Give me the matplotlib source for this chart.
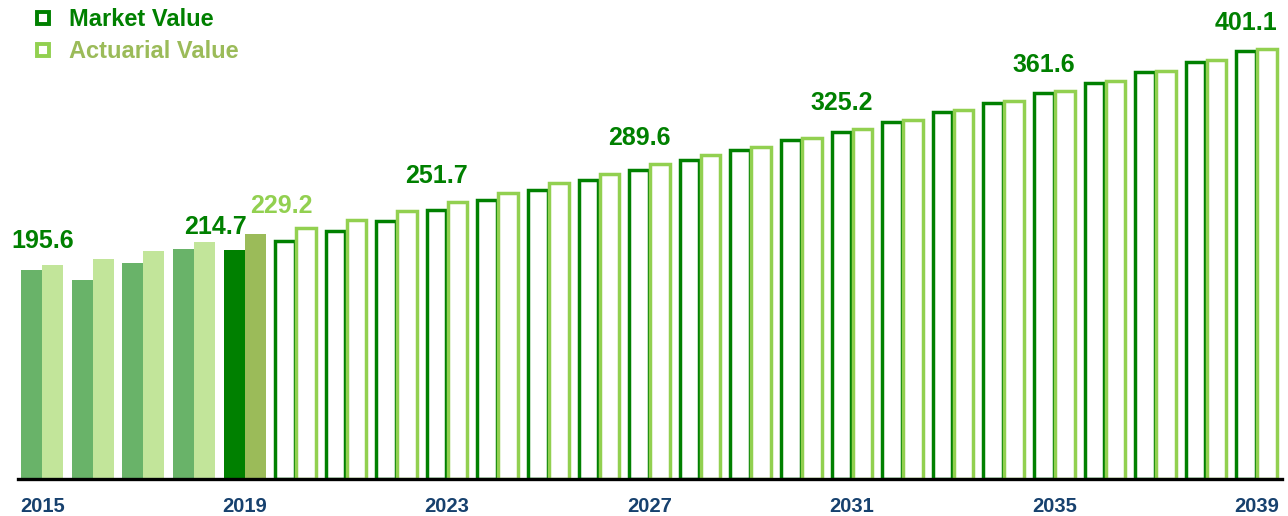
import matplotlib
matplotlib.use("Agg")
import matplotlib.pyplot as plt
from matplotlib.lines import Line2D
import numpy as np

years = list(range(2015, 2040))
market = [195.6, 186.3, 202.2, 215.4, 214.7, 222.8, 232.2, 241.6, 251.7, 261.2,
          270.6, 280.2, 289.6, 299.0, 308.1, 317.1, 325.2, 334.3, 343.6, 352.3,
          361.6, 371.1, 381.1, 390.7, 401.1]
actuarial = [200.1, 206.0, 213.5, 221.9, 229.2, 234.7, 242.8, 250.9, 259.6, 268.1,
             276.9, 285.9, 294.7, 303.1, 311.1, 319.6, 328.0, 336.4, 345.2, 353.9,
             363.3, 372.7, 382.0, 392.3, 402.3]
tick_years = [2015, 2019, 2023, 2027, 2031, 2035, 2039]
labels_market = {2015: "195.6", 2019: "214.7", 2023: "251.7", 2027: "289.6",
                 2031: "325.2", 2035: "361.6", 2039: "401.1"}
labels_actuarial = {2019: "229.2"}

DARK = "#008000"
LIGHT = "#92d050"
HIST_M = "#69b369"
HIST_A = "#c2e59a"
CUR_A = "#9bbb59"
NAVY = "#17416e"
FONT = "Liberation Sans"

W, H = 1288, 516
fig = plt.figure(figsize=(W / 100, H / 100), dpi=100)
left_px, right_px, base_px, top_px = 18, 1282, 479, 0
ax = fig.add_axes([left_px / W, (H - base_px) / H, (right_px - left_px) / W, (base_px - top_px) / H])

x = np.arange(len(years))
bw = 0.415
for i, yr in enumerate(years):
    if yr < 2019:
        ax.bar(x[i] - bw / 2, market[i], bw, color=HIST_M, zorder=2)
        ax.bar(x[i] + bw / 2, actuarial[i], bw, color=HIST_A, zorder=2)
    elif yr == 2019:
        ax.bar(x[i] - bw / 2, market[i], bw, color=DARK, zorder=2)
        ax.bar(x[i] + bw / 2, actuarial[i], bw, color=CUR_A, zorder=2)
    else:
        ax.bar(x[i] - bw / 2, market[i], bw * 0.93, facecolor="white", edgecolor=DARK,
               linewidth=2.5, zorder=2)
        ax.bar(x[i] + bw / 2, actuarial[i], bw * 0.93, facecolor="white", edgecolor=LIGHT,
               linewidth=2.5, zorder=3)

# value labels
for yr, txt in labels_market.items():
    i = years.index(yr)
    if yr == 2015:
        xp, yv, dy = x[i], actuarial[i], 12
    elif yr == 2019:
        xp, yv, dy = x[i] - 0.57, market[i], 11
    else:
        xp, yv, dy = x[i] - bw / 2, actuarial[i], 14
    ax.annotate(txt, (xp, yv), xytext=(0, dy), textcoords="offset pixels",
                ha="center", va="bottom", color=DARK, fontsize=18,
                fontweight="bold", family=FONT, zorder=6)
for yr, txt in labels_actuarial.items():
    i = years.index(yr)
    ax.annotate(txt, (x[i] + 0.72, actuarial[i]), xytext=(0, 16), textcoords="offset pixels",
                ha="center", va="bottom", color=LIGHT, fontsize=18,
                fontweight="bold", family=FONT, zorder=6)

ax.axhline(0, color="black", lw=2.4, zorder=5, clip_on=False)
ax.set_xlim(-0.48, 24.5)
ax.set_ylim(0, (base_px - top_px) / 1.068)
for s in ax.spines.values():
    s.set_visible(False)
ax.set_yticks([])
ax.set_xticks([years.index(t) for t in tick_years])
ax.set_xticklabels([str(t) for t in tick_years], fontsize=14.5, fontweight="bold",
                   color=NAVY, family=FONT)
ax.tick_params(axis="x", length=0, pad=13)

handles = [
    Line2D([], [], marker="s", linestyle="none", markersize=8.5, markerfacecolor="white",
           markeredgecolor=DARK, markeredgewidth=2.8, label="Market Value"),
    Line2D([], [], marker="s", linestyle="none", markersize=8.5, markerfacecolor="white",
           markeredgecolor=LIGHT, markeredgewidth=2.8, label="Actuarial Value"),
]
leg = fig.legend(handles=handles, loc="upper left", bbox_to_anchor=(11 / W, 1.0 + 13 / H),
                 frameon=False, prop={"family": FONT, "weight": "bold", "size": 17},
                 handlelength=0.9, handletextpad=0.65, labelspacing=0.38)
leg.get_texts()[0].set_color(DARK)
leg.get_texts()[1].set_color(CUR_A)

fig.savefig("out.png", dpi=100)
